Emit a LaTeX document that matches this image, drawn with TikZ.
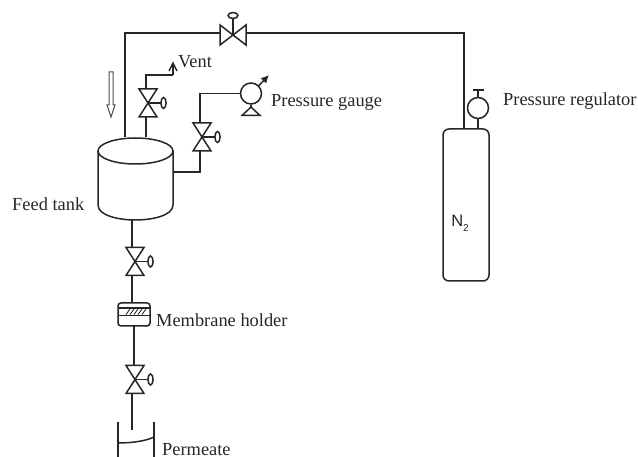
\documentclass[tikz,border=0pt]{standalone}
\usepackage{fontspec}
\usetikzlibrary{arrows.meta}
\setmainfont{Liberation Serif}
\newfontfamily\sansf{Liberation Sans}
\begin{document}
\begin{tikzpicture}[x=1pt,y=-1pt,
  pipe/.style={draw=black!85,line width=1.5pt},
  lab/.style={anchor=base west,inner sep=0pt,font=\fontsize{18.4}{20}\selectfont,text=black!85},
  pt/.style={inner sep=0pt,minimum size=0pt},
]
\useasboundingbox (0,0) rectangle (638,457);
\tikzset{
  pics/vvalve/.style={code={
    \draw[pipe,line join=miter] (-9,-14)--(9,-14)--(-9,14)--(9,14)--cycle;
    \draw[pipe] (0,0)--(13,0);
    \draw[pipe] (15.5,0) ellipse (2.6 and 5.5);
  }},
}
% Coordinates
\coordinate (tankL) at (98,151);
\coordinate (tankR) at (173,151);
\coordinate (pipeTopL) at (125,33);
\coordinate (pipeBotL) at (125,137);
\coordinate (topValveL) at (220,33);
\coordinate (topValveR) at (247,33);
\coordinate (cornerR) at (464,33);
\coordinate (cylTop) at (464,129);
% Feed tank
\node[pt] (tank) at (135.5,151) {};
\draw[pipe] (135.5,151) ellipse (37.5 and 13);
\draw[pipe] (tankL) -- (98,205) .. controls (98,216) and (120,220) .. (135.5,220)
   .. controls (151,220) and (173,216) .. (173,205) -- (tankR);
% Top valve and line to cylinder
\draw[pipe] (pipeBotL) -- (pipeTopL) -- (topValveL);
\draw[pipe] (topValveL) -- (220,45) -- (246,25) -- (246,45) -- (220,25) -- cycle;
\draw[pipe] (233,35) -- (233,19);
\draw[pipe] (233,15.5) ellipse (5 and 3);
\draw[pipe] (topValveR) -- (cornerR) -- (cylTop);
% Cylinder
\node[pt,draw=black!85,line width=1.5pt,rounded corners=6pt,minimum width=46pt,minimum height=152pt] (cyl) at (466,205) {};
\node[inner sep=0pt,font=\sansf\fontsize{16.5}{18}\selectfont,text=black!85] (n2) at (460,223) {N\raisebox{-5pt}{\fontsize{10}{11}\selectfont 2}};
% Regulator
\node[pt,draw=black!85,line width=1.5pt,circle,minimum size=21pt] (reg) at (478,108) {};
\draw[pipe] (reg.south) -- (478,129);
\draw[pipe] (reg.north) -- (478,90);
\draw[pipe] (472.5,90) -- (483.5,90);
% Vent
\coordinate (ventB) at (146,137);
\draw[pipe] (ventB) -- (146,117);
\pic at (148,103) {vvalve};
\draw[pipe] (146,89) -- (146,75) -- (173,75);
\draw[pipe] (173,75) -- (173,64);
\draw[pipe,line join=miter] (169,71) -- (173,63) -- (177,71);
% Down arrow
\draw[draw=black!70,line width=1pt,fill=white] (109,72) -- (113,72) -- (113,105) -- (115,105) -- (111,117) -- (107,105) -- (109,105) -- cycle;
% Gauge
\node[pt,draw=black!85,line width=1.5pt,circle,minimum size=21pt] (gauge) at (251,93.5) {};
\draw[pipe] (173,172) -- (200,172) -- (200,151);
\pic at (202,137) {vvalve};
\draw[pipe] (200,123) -- (200,93.5) -- (gauge.west);
\draw[pipe] (gauge.south) -- (251,107);
\draw[pipe,line join=miter] (251,107) -- (242,115.5) -- (260,115.5) -- cycle;
\draw[pipe,-{Latex[length=8pt,width=8pt]}] (gauge.45) -- (269,75);
% Bottom line
\draw[pipe] (132,220) -- (132,248);
\pic at (135,261.5) {vvalve};
\draw[pipe] (132,275) -- (132,303);
\node[pt,draw=black!85,line width=1.5pt,rounded corners=3pt,minimum width=32pt,minimum height=23pt] (holder) at (134,314.5) {};
\draw[pipe] (118,308) -- (150,308);
\draw[pipe] (118,315.5) -- (150,315.5);
\foreach \x in {126,130,134,138,142}
  \draw[draw=black!85,line width=0.9pt] (\x,314.5) -- (\x+4,309);
\draw[pipe] (134,326) -- (134,365);
\pic at (135,379.5) {vvalve};
\draw[pipe] (132,393) -- (132,430);
% Beaker
\draw[pipe] (118,422) -- (118,457);
\draw[pipe] (154,422) -- (154,457);
\draw[pipe] (118,443) .. controls (132,443) and (146,441) .. (154,437);
% Labels
\node[lab] (vent) at (178,67.5) {Vent};
\node[lab] (pg) at (271,106.5) {Pressure gauge};
\node[lab] (pr) at (503,106) {Pressure regulator};
\node[lab] (ft) at (12,211) {Feed tank};
\node[lab] (mh) at (156,326.5) {Membrane holder};
\node[lab] (pm) at (162,455) {Permeate};
\end{tikzpicture}
\end{document}
